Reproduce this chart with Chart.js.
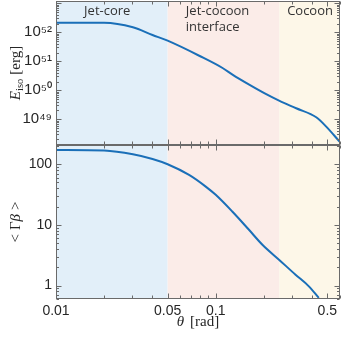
<!DOCTYPE html>
<html><head><meta charset="utf-8">
<script src="https://cdn.jsdelivr.net/npm/chart.js@4"></script>
<style>
html,body{margin:0;padding:0;background:#fff;}
#wrap{position:relative;width:343px;height:339px;overflow:hidden;background:#fff;}
canvas{position:absolute;left:0;}
</style></head><body>
<div id="wrap">
<canvas id="cTop" width="343" height="147" style="top:0px"></canvas>
<canvas id="cBot" width="343" height="199" style="top:140px"></canvas>
</div>
<script>
// ---- data ----
const thetaE = [0.01, 0.02, 0.0303, 0.0402, 0.05, 0.0794, 0.111, 0.128, 0.163, 0.207, 0.251, 0.319, 0.426, 0.492, 0.596];
const eIso   = [2.14e52, 2.14e52, 1.49e52, 8.07e51, 5.13e51, 1.52e51, 5.74e50, 3.37e50, 1.52e50, 7.28e49, 4.28e49, 2.39e49, 1.17e49, 5.56e48, 1.69e48];
const thetaG = [0.01, 0.02, 0.0303, 0.0402, 0.05, 0.0681, 0.0866, 0.1, 0.127, 0.1615, 0.196, 0.249, 0.316, 0.383, 0.442];
const gammaBeta = [172, 168, 146, 122, 100, 66.7, 42.8, 31.3, 16.6, 8.3, 4.71, 2.67, 1.51, 0.97, 0.625];
const xTicks = [0.01, 0.05, 0.1, 0.5];
const eTicks = [1e49, 1e50, 1e51, 1e52];
const gTicks = [1, 10, 100];
const xMin = 0.01, xMax = 0.6;
const eMin = Math.pow(10, 48.11), eMax = Math.pow(10, 53.08);
const gMin = Math.pow(10, -0.214), gMax = Math.pow(10, 2.317);
const regionEdges = [0.05, 0.25];
const regionNames = [['Jet-core'], ['Jet-cocoon', 'interface'], ['Cocoon']];
const regionLabelAt = [0.015, 0.065, 0.28];

// ---- styles ----
const regionColors = ['#e2eff9', '#fbece8', '#fdf7e8'];
const lineColor = '#1a6fb8';
const axisColor = '#6a6a6a';
const textColor = '#262626';
const tickFont = {family: "'Liberation Sans', Arial, sans-serif", size: 14};
const tickFontExp = {family: "'Liberation Sans', Arial, sans-serif", size: 15};
const serif = "'Liberation Serif', 'DejaVu Serif', serif";

const supMap = {'0':'⁰','1':'¹','2':'²','3':'³','4':'⁴','5':'⁵','6':'⁶','7':'⁷','8':'⁸','9':'⁹','-':'⁻'};
const toSup = s => String(s).split('').map(c => supMap[c] || c).join('');

function drawRich(ctx, parts, cx, cy, rotated) {
  ctx.save();
  ctx.translate(cx, cy);
  if (rotated) ctx.rotate(-Math.PI / 2);
  ctx.textBaseline = 'alphabetic';
  ctx.textAlign = 'left';
  ctx.fillStyle = textColor;
  let total = 0;
  const w = parts.map(p => { ctx.font = p.font; const m = ctx.measureText(p.t).width + (p.gap || 0); total += m; return m; });
  let xx = -total / 2;
  parts.forEach((p, i) => {
    ctx.font = p.font;
    ctx.fillText(p.t, xx, p.dy || 0);
    xx += w[i];
  });
  ctx.restore();
}

const decor = {
  id: 'decor',
  beforeDraw(chart, args, opts) {
    const {ctx, chartArea: a, scales: {x}} = chart;
    ctx.save();
    const edges = [xMin, ...regionEdges, xMax];
    for (let i = 0; i < regionColors.length; i++) {
      const x0 = x.getPixelForValue(edges[i]), x1 = x.getPixelForValue(edges[i + 1]);
      ctx.fillStyle = regionColors[i];
      ctx.fillRect(x0, a.top, x1 - x0, a.bottom - a.top);
    }
    if (opts.labels) {
      ctx.fillStyle = '#333';
      ctx.font = "13px 'Open Sans', sans-serif";
      ctx.textBaseline = 'alphabetic';
      ctx.textAlign = 'left';
      regionNames.forEach((lines, i) => {
        const px = x.getPixelForValue(regionLabelAt[i]);
        lines.forEach((ln, j) => ctx.fillText(ln, px, 14.5 + j * 16));
      });
    }
    ctx.restore();
  },
  afterDraw(chart, args, opts) {
    const {ctx, chartArea: a, scales: {x, y}} = chart;
    ctx.save();
    ctx.strokeStyle = axisColor;
    ctx.lineWidth = 1;
    const L = Math.round(a.left) + 0.5, R = Math.round(a.right) - 0.5;
    const T = Math.round(a.top) + 0.5, B = Math.round(a.bottom) - 0.5;
    ctx.strokeRect(L, T, R - L, B - T);
    ctx.beginPath();
    for (let e = -2; e <= 0; e++) {
      for (let k = 1; k <= 9; k++) {
        const v = k * Math.pow(10, e);
        if (v < xMin * 0.9999 || v > xMax * 1.0001) continue;
        const major = xTicks.some(t => Math.abs(v - t) / t < 1e-6);
        const len = major ? 5 : 3;
        const px = Math.round(x.getPixelForValue(v)) + 0.5;
        ctx.moveTo(px, B); ctx.lineTo(px, B - len);
        ctx.moveTo(px, T); ctx.lineTo(px, T + len);
      }
    }
    const lo = Math.floor(Math.log10(y.min)), hi = Math.ceil(Math.log10(y.max));
    for (let e = lo; e <= hi; e++) {
      for (let k = 1; k <= 9; k++) {
        const v = k * Math.pow(10, e);
        if (v < y.min || v > y.max) continue;
        const len = k === 1 ? 5 : 2.5;
        const py = Math.round(y.getPixelForValue(v)) + 0.5;
        ctx.moveTo(L, py); ctx.lineTo(L + len, py);
        ctx.moveTo(R, py); ctx.lineTo(R - len, py);
      }
    }
    ctx.stroke();
    ctx.restore();

    const cy = (a.top + a.bottom) / 2;
    if (opts.yTitle === 'E') {
      drawRich(ctx, [
        {t: 'E', font: 'italic 15px ' + serif},
        {t: 'iso', font: '10.5px ' + serif, dy: 3.5, gap: 4},
        {t: '[erg]', font: '15px ' + serif}
      ], 19.5, cy, true);
    } else if (opts.yTitle === 'G') {
      drawRich(ctx, [
        {t: '<', font: '15px ' + serif, gap: 4},
        {t: 'Γ', font: '15px ' + serif},
        {t: 'β', font: 'italic 15px ' + serif, gap: 4},
        {t: '>', font: '15px ' + serif}
      ], 19.5, cy, true);
    }
    if (opts.xTitle) {
      const cx = (a.left + a.right) / 2;
      drawRich(ctx, [
        {t: 'θ', font: 'italic 15px ' + serif, gap: 6},
        {t: '[rad]', font: '15px ' + serif}
      ], cx, a.bottom + 27, false);
    }
  }
};

function pts(xs, ys) { return xs.map((t, i) => ({x: t, y: ys[i]})); }

function makeChart(id, data, yMin, yMax, yTicks, yFmt, yFont, showX, pad, plug) {
  return new Chart(document.getElementById(id), {
    type: 'line',
    data: {datasets: [{
      data: data,
      borderColor: lineColor,
      borderWidth: 2,
      pointRadius: 0,
      fill: false,
      cubicInterpolationMode: 'monotone'
    }]},
    options: {
      responsive: false,
      animation: false,
      events: [],
      layout: {padding: pad},
      plugins: {legend: {display: false}, tooltip: {enabled: false}, decor: plug},
      scales: {
        x: {
          type: 'logarithmic', min: xMin, max: xMax,
          display: showX,
          grid: {display: false, drawTicks: false},
          border: {display: false},
          afterBuildTicks: s => { s.ticks = xTicks.map(v => ({value: v})); },
          afterFit: s => { s.height = showX ? 40 : 0; s.paddingLeft = 0; s.paddingRight = 0; },
          ticks: {autoSkip: false, maxRotation: 0, padding: 4, color: textColor, font: tickFont,
                  callback: v => String(v)}
        },
        y: {
          type: 'logarithmic', min: yMin, max: yMax,
          grid: {display: false, drawTicks: false},
          border: {display: false},
          afterBuildTicks: s => { s.ticks = yTicks.map(v => ({value: v})); },
          afterFit: s => { s.width = 56; s.paddingTop = 0; s.paddingBottom = 0; },
          ticks: {autoSkip: false, padding: 4, color: textColor, font: yFont, callback: yFmt}
        }
      }
    },
    plugins: [decor]
  });
}

makeChart('cTop', pts(thetaE, eIso), eMin, eMax, eTicks,
  v => '10' + toSup(Math.round(Math.log10(v))), tickFontExp, false,
  {top: 1, bottom: 2, left: 0, right: 3}, {labels: true, yTitle: 'E'});
makeChart('cBot', pts(thetaG, gammaBeta), gMin, gMax, gTicks,
  v => String(Math.round(v)), tickFont, true,
  {top: 5, bottom: 0, left: 0, right: 3}, {labels: false, yTitle: 'G', xTitle: true});
</script>
</body></html>
